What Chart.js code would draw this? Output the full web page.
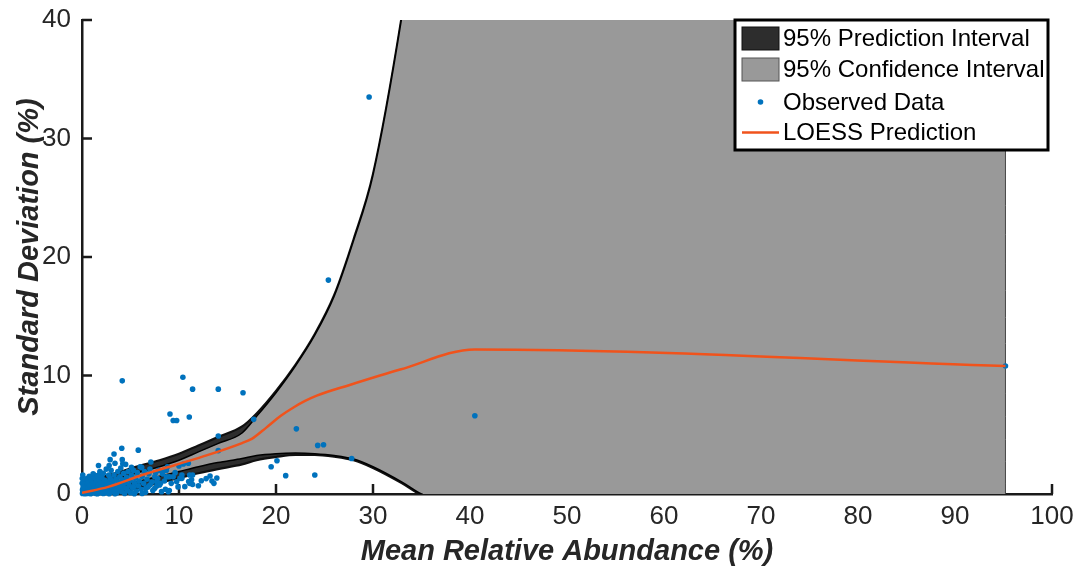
<!DOCTYPE html>
<html>
<head>
<meta charset="utf-8">
<script src="https://cdn.jsdelivr.net/npm/chart.js@4/dist/chart.umd.min.js"></script>
<style>
  html, body { margin: 0; padding: 0; background: #fff; }
</style>
</head>
<body>
<canvas id="chart" width="1078" height="572"></canvas>
<script>
const seriesNames = ["95% Prediction Interval", "95% Confidence Interval", "Observed Data", "LOESS Prediction"];
const xTicks = [0, 10, 20, 30, 40, 50, 60, 70, 80, 90, 100];
const yTicks = [0, 10, 20, 30, 40];

// interval bounds (upper values above 40 run off the top of the axes)
const bandX   = [0, 2, 4, 6, 8, 10, 12, 14, 16.5, 18, 20, 22, 24, 26, 28, 30, 33, 35, 40.5, 95.2];
const piUpper = [0.9, 1.4, 1.9, 2.4, 2.85, 3.4, 4.1, 4.8, 5.7, 6.8, 8.7, 10.9, 13.5, 16.8, 21.5, 27, 40.5, 52, 90, 900];
const ciUpper = [0.35, 0.85, 1.35, 1.85, 2.3, 2.85, 3.55, 4.25, 5.15, 6.55, 8.55, 10.8, 13.4, 16.7, 21.4, 26.9, 40.4, 51.9, 89.9, 899];
const ciLower = [0, 0.3, 0.7, 1.1, 1.5, 1.9, 2.3, 2.65, 3.0, 3.25, 3.4, 3.45, 3.4, 3.25, 2.95, 2.3, 1.0, 0, -1.5, -20];
const piLower = [-0.45, -0.2, 0.15, 0.55, 0.95, 1.35, 1.75, 2.1, 2.5, 2.85, 3.12, 3.3, 3.3, 3.15, 2.85, 2.2, 0.9, -0.1, -1.6, -20];

const loessX = [0, 2.7, 6.2, 9.6, 13, 16.5, 17.5, 19, 20.5, 21.8, 23, 24.2, 27.6, 32.8, 40.5, 95.2];
const loessY = [0.1, 0.6, 1.6, 2.45, 3.3, 4.3, 4.65, 5.6, 6.6, 7.3, 7.85, 8.3, 9.2, 10.5, 12.2, 10.8];

const obsX = [
  4.15, 10.4, 11.4, 14.05, 16.6, 9.07, 9.4, 9.76, 11.06, 17.7, 25.4, 29.6, 40.5, 95.2, 22.1,
  14.05, 14.05, 24.3, 24.9, 27.8, 19.5, 20.1, 21.0, 24.0, 10.0, 10.45, 10.96, 8.7, 13.2, 13.9,
  13.6, 12.3, 11.1, 11.4, 11.3, 11.0, 11.4, 11.1, 10.3, 9.4, 9.0, 9.9, 8.6, 7.7, 8.0,
  7.5, 4.1, 3.3, 5.8, 4.15, 4.2, 2.8, 7.1, 6.15, 5.1, 1.24, 1.86, 7.9, 8.4, 8.7,
  7.7, 7.0, 7.5, 8.9, 10.3, 10.1, 9.76, 10.6, 1.7, 2.9,
  0.05, 0.1, 0.15, 0.2, 0.25, 0.3, 0.35, 0.4, 0.45, 0.5, 0.55, 0.6, 0.65, 0.7, 0.75,
  0.8, 0.85, 0.9, 0.95, 1.0, 1.05, 1.1, 1.15, 1.2, 1.25, 1.3, 1.35, 1.4, 1.45, 1.5,
  1.55, 1.6, 1.65, 1.7, 1.75, 1.8, 1.85, 1.9, 1.95, 2.0, 2.05, 2.1, 2.2, 2.25, 2.3,
  2.35, 2.4, 2.5, 2.55, 2.6, 2.7, 2.75, 2.8, 2.9, 2.95, 3.0, 3.1, 3.15, 3.2, 3.3,
  3.35, 3.4, 3.5, 3.55, 3.6, 3.7, 3.75, 3.8, 3.9, 4.0, 4.05, 4.1, 4.2, 4.3, 4.35,
  4.45, 4.5, 4.6, 4.7, 4.75, 4.85, 4.95, 5.0, 5.1, 5.2, 5.3, 5.4, 5.5, 5.6, 5.7,
  5.8, 5.9, 6.0, 6.1, 6.2, 6.35, 6.45, 6.55, 6.7, 6.8, 6.9, 7.0, 7.2, 7.3, 7.6,
  7.8, 8.1, 8.3, 8.5, 8.8, 9.2, 9.6, 0.02, 0.03, 0.05, 0.08, 0.1, 0.12, 0.3, 0.9,
  1.6, 2.2, 2.8, 3.4, 4.4, 5.4, 6.2,
  12.0, 12.8, 13.4, 6.6, 5.3, 4.6, 3.9, 2.4, 1.4, 0.6, 9.0, 8.2
];
const obsY = [
  9.55, 9.85, 8.85, 8.85, 8.55, 6.75, 6.2, 6.2, 6.5, 6.3, 18.05, 33.5, 6.6, 10.8, 5.5,
  4.9, 3.66, 4.1, 4.15, 3.0, 2.3, 2.8, 1.55, 1.6, 2.36, 2.53, 2.6, 2.0, 1.52, 1.35,
  0.9, 1.12, 1.6, 1.6, 1.2, 1.05, 0.8, 0.9, 1.32, 1.46, 1.46, 0.6, 0.4, 0.67, 0.76,
  1.46, 3.86, 3.37, 3.7, 2.9, 2.55, 2.4, 2.7, 2.25, 2.25, 1.6, 1.74, 2.0, 2.0, 1.46,
  1.04, 0.76, 0.48, 0.2, 1.6, 1.32, 1.04, 0.62, 2.4, 2.9,
  0.05, 0.3, 0.7, 0.1, 1.1, 0.45, 0.15, 0.8, 0.3, 1.3, 0.05, 0.55, 0.95, 0.2, 1.5,
  0.4, 0.75, 0.1, 1.2, 0.5, 0.25, 0.9, 1.7, 0.1, 0.6, 1.35, 0.35, 0.85, 0.05, 1.05,
  0.5, 1.55, 0.2, 0.75, 1.2, 0.4, 1.9, 0.1, 0.95, 0.6, 1.4, 0.25, 1.75, 0.8, 0.45,
  1.15, 0.1, 2.1, 0.65, 1.0, 0.3, 1.6, 0.85, 1.3, 0.15, 2.0, 0.55, 1.1, 0.9, 1.6,
  0.3, 2.6, 1.25, 0.7, 0.1, 1.9, 1.0, 0.45, 1.45, 2.2, 0.8, 0.2, 1.2, 1.75, 0.55,
  0.95, 2.5, 1.4, 0.3, 1.9, 0.75, 1.15, 0.1, 1.6, 0.5, 2.0, 0.95, 1.35, 0.25, 1.8,
  0.7, 1.1, 2.3, 0.4, 1.5, 0.9, 1.9, 0.15, 1.25, 0.6, 1.7, 2.1, 1.0, 0.3, 1.8,
  1.3, 0.9, 1.7, 1.1, 2.3, 0.9, 1.8, 0.9, 1.3, 0.35, 1.6, 0.2, 0.55, 0.02, 0.03,
  0.02, 0.04, 0.03, 0.02, 0.05, 0.03, 0.05,
  0.7, 1.3, 1.1, 0.5, 0.6, 0.45, 0.6, 0.3, 0.25, 0.15, 0.3, 0.2
];

const BLUE = "#0072BD";
const ORANGE = "#F0531C";
const GREY = "#999999";
const DARK = "#2d2d2d";
const FONT = "'Liberation Sans', Arial, Helvetica, sans-serif";

const toPts = (xs, ys) => xs.map((x, i) => ({ x: x, y: ys[i] }));

// MATLAB style ticks pointing into the axes, under the patches
const inwardTicks = {
    id: "inwardTicks",
    beforeDatasetsDraw(chart) {
        const { ctx, chartArea, scales } = chart;
        ctx.save();
        ctx.strokeStyle = "#1a1a1a";
        ctx.lineWidth = 2.5;
        ctx.beginPath();
        xTicks.forEach(function (v) {
            if (v === 0) return;
            const px = scales.x.getPixelForValue(v);
            ctx.moveTo(px, chartArea.bottom);
            ctx.lineTo(px, chartArea.bottom - 10);
        });
        yTicks.forEach(function (v) {
            if (v === 0) return;
            const py = scales.y.getPixelForValue(v);
            ctx.moveTo(chartArea.left, py);
            ctx.lineTo(chartArea.left + 10, py);
        });
        ctx.stroke();
        ctx.restore();
    },
};

// boxed legend in the upper right corner
const boxLegend = {
    id: "boxLegend",
    afterDraw(chart) {
        const ctx = chart.ctx;
        const area = chart.chartArea;
        const w = 313, h = 130;
        const left = area.right - 4 - w;
        const top = area.top;
        ctx.save();
        ctx.fillStyle = "#fff";
        ctx.fillRect(left, top, w, h);
        ctx.strokeStyle = "#000";
        ctx.lineWidth = 3;
        ctx.strokeRect(left, top, w, h);

        const rows = [18.5, 49.5, 82, 112.5];
        ctx.font = "24px " + FONT;
        ctx.textBaseline = "middle";
        ctx.textAlign = "left";
        seriesNames.forEach(function (name, i) {
            const cy = top + rows[i];
            const ix = left + 7;
            if (i === 0 || i === 1) {
                ctx.fillStyle = i === 0 ? DARK : GREY;
                ctx.fillRect(ix, cy - 11.5, 37, 23);
                ctx.strokeStyle = i === 0 ? "#111" : "#555";
                ctx.lineWidth = 1;
                ctx.strokeRect(ix, cy - 11.5, 37, 23);
            } else if (i === 2) {
                ctx.fillStyle = BLUE;
                ctx.beginPath();
                ctx.arc(ix + 18.5, cy, 2.8, 0, Math.PI * 2);
                ctx.fill();
            } else {
                ctx.strokeStyle = ORANGE;
                ctx.lineWidth = 2.5;
                ctx.beginPath();
                ctx.moveTo(ix, cy);
                ctx.lineTo(ix + 37, cy);
                ctx.stroke();
            }
            ctx.fillStyle = "#000";
            ctx.fillText(name, left + 48, cy + 1);
        });
        ctx.restore();
    },
};

const lineBase = { type: "line", pointRadius: 0, tension: 0, cubicInterpolationMode: "monotone" };

new Chart(document.getElementById("chart"), {
    type: "line",
    data: {
        datasets: [
            Object.assign({}, lineBase, {
                label: seriesNames[3],
                data: toPts(loessX, loessY),
                borderColor: ORANGE,
                borderWidth: 2.5,
                fill: false,
                order: 0,
            }),
            {
                type: "line",
                label: seriesNames[2],
                data: toPts(obsX, obsY),
                showLine: false,
                pointRadius: 2.8,
                pointBorderWidth: 0,
                pointBackgroundColor: BLUE,
                borderColor: BLUE,
                order: 1,
                clip: 4,
            },
            Object.assign({}, lineBase, {
                label: seriesNames[1],
                data: toPts(bandX, ciUpper),
                fill: "+1",
                backgroundColor: GREY,
                borderColor: "#000",
                borderWidth: 1.5,
                order: 4,
            }),
            Object.assign({}, lineBase, {
                label: "ci lower",
                data: toPts(bandX, ciLower),
                fill: false,
                borderColor: "#000",
                borderWidth: 1.5,
                order: 3.5,
            }),
            Object.assign({}, lineBase, {
                label: seriesNames[0],
                data: toPts(bandX, piUpper),
                fill: "+1",
                backgroundColor: DARK,
                borderColor: "#111",
                borderWidth: 2.2,
                order: 5,
            }),
            Object.assign({}, lineBase, {
                label: "pi lower",
                data: toPts(bandX, piLower),
                fill: false,
                borderColor: "#111",
                borderWidth: 2.2,
                order: 4.5,
            }),
            Object.assign({}, lineBase, {
                label: "edge",
                data: [{ x: bandX[bandX.length - 1], y: ciLower[ciLower.length - 1] }, { x: bandX[bandX.length - 1], y: ciUpper[ciUpper.length - 1] }],
                fill: false,
                borderColor: "#444",
                borderWidth: 1,
                order: 3.5,
            }),
        ],
    },
    options: {
        responsive: false,
        animation: false,
        devicePixelRatio: 1,
        layout: { padding: { top: 20, right: 26, left: 0, bottom: 0 } },
        plugins: {
            legend: { display: false },
            tooltip: { enabled: false },
        },
        scales: {
            x: {
                type: "linear",
                min: 0,
                max: 100,
                afterFit: function (s) { s.height = 78; s.paddingLeft = 0; s.paddingRight = 0; },
                afterBuildTicks: function (s) { s.ticks = xTicks.map(function (v) { return { value: v }; }); },
                grid: { display: false, drawTicks: false },
                border: { display: true, color: "#1a1a1a", width: 2.5 },
                ticks: { color: "#262626", padding: 7, maxRotation: 0, autoSkip: false, font: { family: FONT, size: 26 } },
                title: {
                    display: true,
                    text: "Mean Relative Abundance (%)",
                    color: "#262626",
                    padding: { top: 0, bottom: 6 },
                    font: { family: FONT, size: 29, weight: "bold", style: "italic", lineHeight: 1 },
                },
            },
            y: {
                type: "linear",
                min: 0,
                max: 40,
                afterFit: function (s) { s.width = 82; s.paddingTop = 0; s.paddingBottom = 0; },
                afterBuildTicks: function (s) { s.ticks = yTicks.map(function (v) { return { value: v }; }); },
                grid: { display: false, drawTicks: false },
                border: { display: true, color: "#1a1a1a", width: 2.5 },
                ticks: { color: "#262626", padding: 11, font: { family: FONT, size: 26 } },
                title: {
                    display: true,
                    text: "Standard Deviation (%)",
                    color: "#262626",
                    padding: { top: 15, bottom: 0 },
                    font: { family: FONT, size: 29, weight: "bold", style: "italic", lineHeight: 1 },
                },
            },
        },
    },
    plugins: [inwardTicks, boxLegend],
});
</script>
</body>
</html>
